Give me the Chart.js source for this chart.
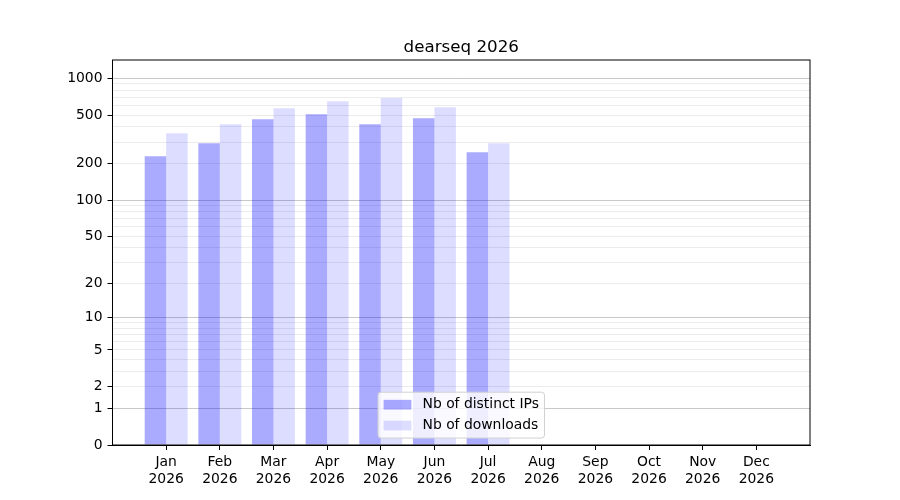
<!DOCTYPE html>
<html>
<head>
<meta charset="utf-8">
<script src="https://cdn.jsdelivr.net/npm/chart.js@4"></script>
<style>
  html, body { margin: 0; padding: 0; background: #fff; }
  #wrap { width: 900px; height: 500px; }
</style>
</head>
<body>
<div id="wrap"><canvas id="c" width="900" height="500"></canvas></div>
<script>
// ---- data ----
const title = 'dearseq 2026';
const months = ['Jan','Feb','Mar','Apr','May','Jun','Jul','Aug','Sep','Oct','Nov','Dec'];
const yearLabel = '2026';
const distinctIPs = [230, 294, 462, 508, 420, 471, 248];
const downloads   = [355, 420, 569, 649, 691, 579, 294];
const seriesNames = ['Nb of distinct IPs', 'Nb of downloads'];
const yLabeledTicks = [0, 1, 2, 5, 10, 20, 50, 100, 200, 500, 1000];
const yMajorGrid = [1, 10, 100, 1000];
const yGridTicks = [0,1,2,3,4,5,6,7,8,9,10,20,30,40,50,60,70,80,90,100,200,300,400,500,600,700,800,900,1000];
const yMax = 1413;

// ---- custom log(1+x) scale ----
class Log1pScale extends Chart.LinearScale {
  determineDataLimits() {
    this.min = this.options.min;
    this.max = this.options.max;
  }
  buildTicks() {
    return yGridTicks.map(v => ({ value: v }));
  }
  configure() {
    super.configure();
    this._lstart = Math.log10(this.min + 1);
    this._lrange = Math.log10(this.max + 1) - this._lstart;
  }
  getPixelForValue(v) {
    return this.getPixelForDecimal((Math.log10(v + 1) - this._lstart) / this._lrange);
  }
  getValueForPixel(p) {
    return Math.pow(10, this._lstart + this.getDecimalForPixel(p) * this._lrange) - 1;
  }
}
Log1pScale.id = 'log1p';
Log1pScale.defaults = Chart.LinearScale.defaults;
Chart.register(Log1pScale);

Chart.defaults.font.family = 'DejaVu Sans';
Chart.defaults.font.size = 13.9;
Chart.defaults.color = '#000';

const colIPs = 'rgba(0,0,255,0.333)';
const colDl  = 'rgba(0,0,255,0.133)';

const frame = {
  id: 'frame',
  afterDraw(chart) {
    const a = chart.chartArea, ctx = chart.ctx;
    ctx.save();
    ctx.strokeStyle = '#000';
    ctx.lineWidth = 1;
    ctx.strokeRect(a.left, a.top, a.right - a.left, a.bottom - a.top);
    ctx.fillStyle = '#000';
    ctx.font = '16.7px "DejaVu Sans"';
    ctx.textAlign = 'center';
    ctx.textBaseline = 'alphabetic';
    ctx.fillText(title, (a.left + a.right) / 2, a.top - 8.3);
    ctx.restore();
  }
};

const legendBox = {
  id: 'legendBox',
  afterDatasetsDraw(chart) {
    const a = chart.chartArea, ctx = chart.ctx;
    const fs = 13.9;
    ctx.save();
    ctx.font = fs + 'px "DejaVu Sans"';
    const tw = Math.max(...chart.data.datasets.map(d => ctx.measureText(d.label).width));
    const pad = 0.4 * fs, hl = 2.0 * fs, hh = 0.7 * fs, htp = 0.8 * fs, ls = 0.5 * fs;
    const n = chart.data.datasets.length;
    const w = pad + hl + htp + tw + pad;
    const h = pad * 2 + n * fs + (n - 1) * ls;
    const x0 = (a.left + a.right) / 2 - w / 2;
    const y0 = a.bottom - 0.5 * fs - h;
    const r = 3;
    ctx.beginPath();
    ctx.moveTo(x0 + r, y0);
    ctx.arcTo(x0 + w, y0, x0 + w, y0 + h, r);
    ctx.arcTo(x0 + w, y0 + h, x0, y0 + h, r);
    ctx.arcTo(x0, y0 + h, x0, y0, r);
    ctx.arcTo(x0, y0, x0 + w, y0, r);
    ctx.closePath();
    ctx.fillStyle = 'rgba(255,255,255,0.8)';
    ctx.fill();
    ctx.strokeStyle = '#d0d0d0';
    ctx.lineWidth = 1;
    ctx.stroke();
    chart.data.datasets.forEach((d, i) => {
      const cy = y0 + pad + fs / 2 + i * (fs + ls);
      ctx.fillStyle = d.backgroundColor;
      ctx.fillRect(x0 + pad, cy - hh / 2, hl, hh);
      ctx.fillStyle = '#000';
      ctx.textBaseline = 'middle';
      ctx.textAlign = 'left';
      ctx.fillText(d.label, x0 + pad + hl + htp, cy);
    });
    ctx.restore();
  }
};

new Chart(document.getElementById('c'), {
  type: 'bar',
  data: {
    datasets: [
      { label: seriesNames[0], data: distinctIPs.map((v, i) => ({ x: i, y: v })), backgroundColor: colIPs, borderWidth: 0 },
      { label: seriesNames[1], data: downloads.map((v, i) => ({ x: i, y: v })), backgroundColor: colDl, borderWidth: 0 }
    ]
  },
  options: {
    responsive: false,
    animation: false,
    devicePixelRatio: 1,
    categoryPercentage: 0.8,
    barPercentage: 1.0,
    layout: { padding: { left: 0, right: 90, top: 60, bottom: 0 } },
    plugins: {
      legend: { display: false },
      tooltip: { enabled: false },
      title: { display: false }
    },
    scales: {
      x: {
        type: 'linear',
        min: -1,
        max: 12,
        offset: false,
        afterBuildTicks(scale) { scale.ticks = months.map((m, i) => ({ value: i })); },
        afterFit(scale) { scale.height = 55; },
        ticks: {
          autoSkip: false,
          maxRotation: 0,
          padding: 4,
          callback: (v, i) => [months[i], yearLabel]
        },
        grid: { display: true, offset: false, drawOnChartArea: false, drawTicks: true, tickLength: 5, tickColor: '#000' },
        border: { display: true, color: '#000', width: 1 }
      },
      y: {
        type: 'log1p',
        min: 0,
        max: yMax,
        afterFit(scale) { scale.width = 112.5; },
        ticks: {
          autoSkip: false,
          padding: 5,
          callback: (v) => yLabeledTicks.includes(v) ? String(v) : ''
        },
        grid: {
          drawTicks: true,
          tickLength: 5,
          lineWidth: 1,
          color: (ctx) => {
            const v = ctx.tick ? ctx.tick.value : null;
            if (v === 0) return 'rgba(0,0,0,0)';
            return yMajorGrid.includes(v) ? '#c8c8c8' : '#ececec';
          },
          tickColor: (ctx) => {
            const v = ctx.tick ? ctx.tick.value : null;
            return yLabeledTicks.includes(v) ? '#000' : 'rgba(0,0,0,0)';
          }
        },
        border: { display: true, color: '#000', width: 1 }
      }
    }
  },
  plugins: [frame, legendBox]
});
</script>
</body>
</html>
